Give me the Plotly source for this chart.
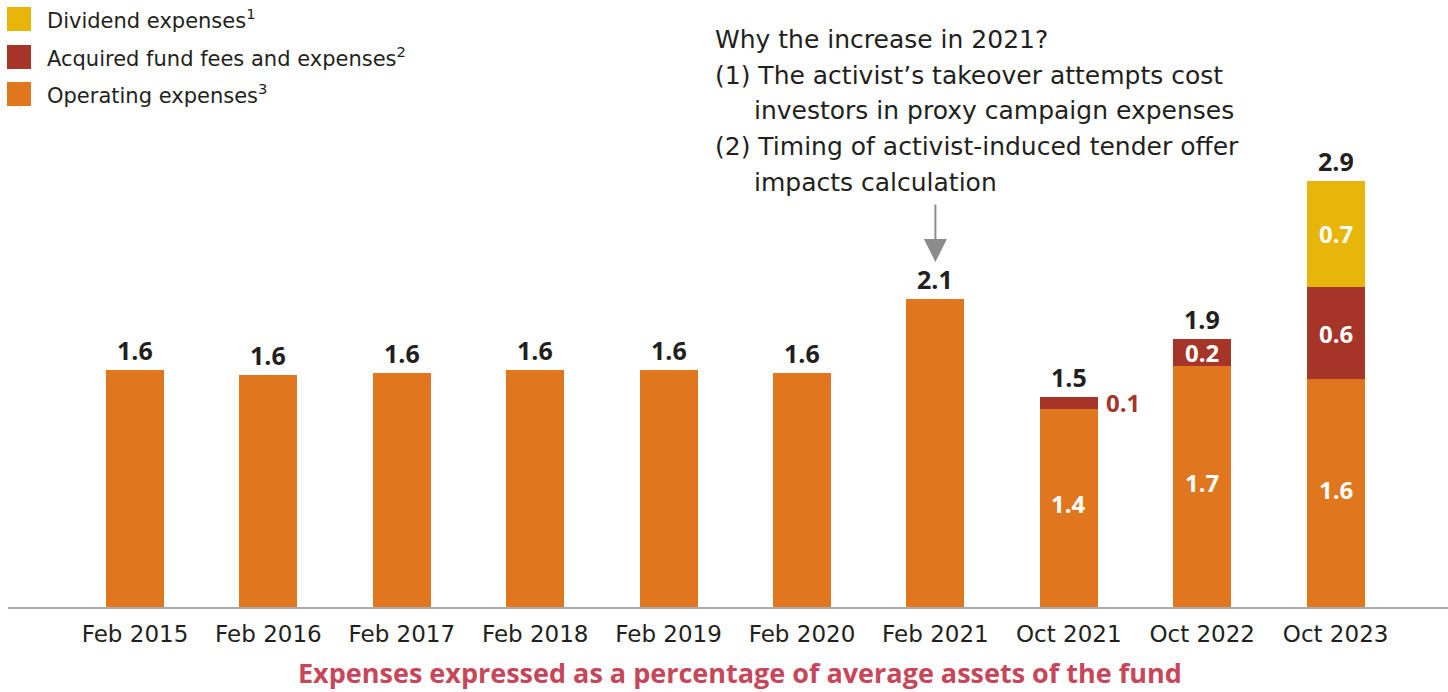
import plotly.graph_objects as go

# ---------------- data ----------------
categories = ["Feb 2015", "Feb 2016", "Feb 2017", "Feb 2018", "Feb 2019",
              "Feb 2020", "Feb 2021", "Oct 2021", "Oct 2022", "Oct 2023"]
operating = [1.60, 1.57, 1.58, 1.60, 1.60, 1.58, 2.08, 1.34, 1.63, 1.54]
acquired = [0, 0, 0, 0, 0, 0, 0, 0.08, 0.18, 0.62]
dividend = [0, 0, 0, 0, 0, 0, 0, 0, 0, 0.72]

total_labels = ["1.6", "1.6", "1.6", "1.6", "1.6", "1.6", "2.1", "1.5", "1.9", "2.9"]
operating_labels = ["", "", "", "", "", "", "", "1.4", "1.7", "1.6"]
acquired_labels = ["", "", "", "", "", "", "", "", "0.2", "0.6"]
acquired_outside_labels = ["", "", "", "", "", "", "", "0.1", "", ""]
dividend_labels = ["", "", "", "", "", "", "", "", "", "0.7"]

series_names = ["Dividend expenses<sup>1</sup>",
                "Acquired fund fees and expenses<sup>2</sup>",
                "Operating expenses<sup>3</sup>"]

note_lines = ["Why the increase in 2021?",
              "(1) The activist\u2019s takeover attempts cost",
              "investors in proxy campaign expenses",
              "(2) Timing of activist-induced tender offer",
              "impacts calculation"]
axis_title = "Expenses expressed as a percentage of average assets of the fund"

# ---------------- style ----------------
C_OPER = "#E0771E"
C_ACQ = "#A63428"
C_DIV = "#E8B60A"
C_TEXT = "#231F20"
C_TITLE = "#C8465A"
REG = "DejaVu Sans"
BOLD = "Open Sans"
W, H = 1448, 692
ML, MR, MT, MB = 8, 0, 0, 85
PW, PH = W - ML - MR, H - MT - MB


def px(x):
    return (x - ML) / PW


def py(y):
    return (MT + PH - y) / PH


BAR_W = 0.435

fig = go.Figure()
for vals, col, name in [(operating, C_OPER, series_names[2]),
                        (acquired, C_ACQ, series_names[1]),
                        (dividend, C_DIV, series_names[0])]:
    fig.add_trace(go.Bar(x=categories, y=vals, marker=dict(color=col, line=dict(width=0)),
                         width=BAR_W, name=name, showlegend=False,
                         hoverinfo="x+y"))

annotations = []
totals = [o + a + d for o, a, d in zip(operating, acquired, dividend)]
for i, c in enumerate(categories):
    annotations.append(dict(x=c, y=totals[i], xref="x", yref="y", text="<b>%s</b>" % total_labels[i],
                            showarrow=False, yanchor="bottom", yshift=1,
                            font=dict(family=BOLD, size=25, color=C_TEXT)))
    if operating_labels[i]:
        annotations.append(dict(x=c, y=operating[i] / 2, xref="x", yref="y",
                                text="<b>%s</b>" % operating_labels[i], showarrow=False,
                                yshift=4, font=dict(family=BOLD, size=24, color="white")))
    if acquired_labels[i]:
        annotations.append(dict(x=c, y=operating[i] + acquired[i] / 2, xref="x", yref="y",
                                text="<b>%s</b>" % acquired_labels[i], showarrow=False,
                                font=dict(family=BOLD, size=24, color="white")))
    if acquired_outside_labels[i]:
        annotations.append(dict(x=c, y=operating[i] + acquired[i] / 2, xref="x", yref="y",
                                text="<b>%s</b>" % acquired_outside_labels[i], showarrow=False,
                                xshift=54, font=dict(family=BOLD, size=24, color=C_ACQ)))
    if dividend_labels[i]:
        annotations.append(dict(x=c, y=operating[i] + acquired[i] + dividend[i] / 2,
                                xref="x", yref="y",
                                text="<b>%s</b>" % dividend_labels[i], showarrow=False,
                                font=dict(family=BOLD, size=24, color="white")))

# arrow pointing to Feb 2021
annotations.append(dict(x=categories[6], y=totals[6], xref="x", yref="y", text="",
                        showarrow=True, ax=0, ay=-96, standoff=37,
                        arrowhead=2, arrowwidth=2, arrowsize=2.3, arrowcolor="#8C8C8C"))

# explanatory note
note_x = [713, 713, 752, 713, 752]
note_y = [39, 76, 111, 147, 182]
for t, x, y in zip(note_lines, note_x, note_y):
    annotations.append(dict(x=px(x), y=py(y), xref="paper", yref="paper", text=t,
                            showarrow=False, xanchor="left", yanchor="middle",
                            font=dict(family=REG, size=25, color=C_TEXT)))

# legend
shapes = []
leg_cols = [C_DIV, C_ACQ, C_OPER]
leg_y = [19, 57, 94]
for name, col, y in zip(series_names, leg_cols, leg_y):
    shapes.append(dict(type="rect", xref="paper", yref="paper",
                       x0=px(7), x1=px(31), y0=py(y - 12), y1=py(y + 12),
                       fillcolor=col, line=dict(width=0)))
    annotations.append(dict(x=px(45), y=py(y), xref="paper", yref="paper", text=name,
                            showarrow=False, xanchor="left", yanchor="middle",
                            font=dict(family=REG, size=21, color=C_TEXT)))

# axis title
annotations.append(dict(x=px(740), y=py(672), xref="paper", yref="paper",
                        text="<b>%s</b>" % axis_title, showarrow=False,
                        xanchor="center", yanchor="middle", borderpad=0,
                        font=dict(family=BOLD, size=27, color=C_TITLE)))

x0 = -(135 - ML) / 133.4
fig.update_layout(
    width=W, height=H,
    margin=dict(l=ML, r=MR, t=MT, b=MB),
    paper_bgcolor="white", plot_bgcolor="white",
    barmode="stack",
    xaxis=dict(type="category", range=[x0, x0 + PW / 133.4], showline=True,
               linecolor="#ABABAB", linewidth=2, ticks="", showgrid=False,
               ticklabelstandoff=5,
               tickfont=dict(family=REG, size=23, color=C_TEXT), fixedrange=True),
    yaxis=dict(range=[0, PH / 148.05], visible=False, showgrid=False, zeroline=False,
               fixedrange=True),
    annotations=annotations,
    shapes=shapes,
    showlegend=False,
)

fig.write_html("out.html")
